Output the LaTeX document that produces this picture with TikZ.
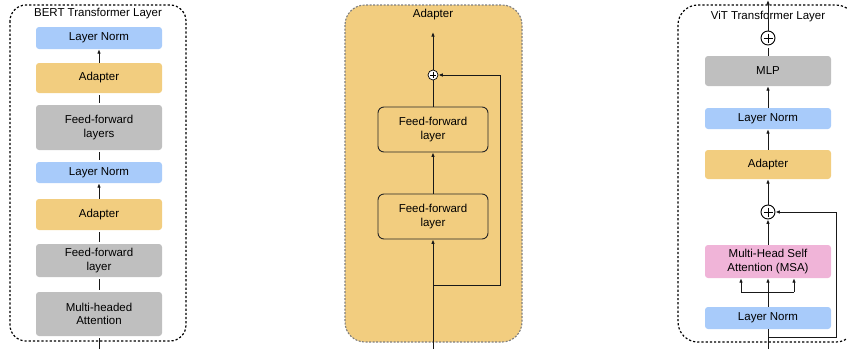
\documentclass[tikz,border=0pt]{standalone}
\usepackage{fontspec}
\setmainfont{Liberation Sans}
\usetikzlibrary{arrows.meta,calc}
\definecolor{lnblue}{HTML}{A8CBFA}
\definecolor{adorange}{HTML}{F2CD7F}
\definecolor{ffgray}{HTML}{BFBFBF}
\definecolor{msapink}{HTML}{F0B4D8}
\definecolor{dashgray}{HTML}{7F7F7F}
\begin{document}
\begin{tikzpicture}[x=1pt,y={(0pt,-1pt)},
  every node/.style={font=\fontsize{11.5}{13.5}\selectfont, align=center, inner sep=0pt},
  blk/.style={rounded corners=3pt, minimum width=126pt},
  lnbox/.style={blk, fill=lnblue},
  adbox/.style={blk, fill=adorange},
  ffbox/.style={blk, fill=ffgray},
  msabox/.style={blk, fill=msapink},
  midbox/.style={rounded corners=6pt, minimum width=110pt, minimum height=45pt, draw=black!85, line width=0.9pt},
  con/.style={line width=0.9pt, draw=black!90},
  arr/.style={con, -{Latex[length=4.5pt,width=3.6pt]}},
  gap/.style={con, shorten >=2pt, shorten <=2pt},
  dotbox/.style={draw=black, line width=1.2pt, dash pattern=on 2.2pt off 2pt, rounded corners=16pt},
  plusnode/.style={circle, draw=black, line width=0.9pt, minimum size=14pt, fill=white}
]
\useasboundingbox (0,0) rectangle (847,349);

% ---------- Left panel ----------
\draw[dotbox] (10,5) rectangle (186,341);
\node (t1) at (98,14) {BERT Transformer Layer};
\node[lnbox, minimum height=22pt] (ln1) at (99,38) {Layer Norm};
\node[adbox, minimum height=30pt] (ad1) at (99,78) {Adapter};
\node[ffbox, minimum height=45pt] (ff1) at (99,127.5) {Feed-forward\\layers};
\node[lnbox, minimum height=21pt] (ln2) at (99,172.5) {Layer Norm};
\node[adbox, minimum height=31pt] (ad2) at (99,214.5) {Adapter};
\node[ffbox, minimum height=33pt] (ffl) at (99,260.5) {Feed-forward\\layer};
\node[ffbox, minimum height=44pt] (mha) at (99,314) {Multi-headed\\Attention};
\coordinate (lin) at (99,349);
\draw[arr] (ad1) -- (ln1);
\draw[gap] (ff1) -- (ad1);
\draw[gap] (ln2) -- (ff1);
\draw[arr] (ad2) -- (ln2);
\draw[gap] (ffl) -- (ad2);
\draw[gap] (mha) -- (ffl);
\draw[con, shorten >=2pt] (lin) -- (mha);

% ---------- Middle panel ----------
\draw[fill=adorange, draw=dashgray, line width=1.1pt, dash pattern=on 2pt off 1.5pt, rounded corners=20pt] (345,5) rectangle (522,342);
\node (t2) at (433,15) {Adapter};
\node[circle, draw=black, line width=0.7pt, fill=white, minimum size=10pt] (pm) at (433,75) {};
\draw[line width=0.7pt] ($(pm)+(-3.2,0)$) -- ($(pm)+(3.2,0)$) ($(pm)+(0,-3.2)$) -- ($(pm)+(0,3.2)$);
\node[midbox] (ffa) at (433,129.5) {Feed-forward\\layer};
\node[midbox] (ffb) at (433,216.5) {Feed-forward\\layer};
\coordinate (min) at (433,349);
\coordinate (mout) at (433,32);
\coordinate (ms) at (433,285);
\coordinate (msr) at (500,285);
\coordinate (msu) at (500,75);
\draw[arr] (min) -- (ffb);
\draw[arr] (ffb) -- (ffa);
\draw[con] (ffa) -- (pm);
\draw[arr] (pm) -- (mout);
\draw[arr] (ms) -- (msr) -- (msu) -- (pm);

% ---------- Right panel ----------
\draw[dotbox, rounded corners=20pt] (678,5) rectangle (856,342);
\node (t3) at (768,17) {ViT Transformer Layer};
\node[plusnode] (p1) at (768,38) {};
\draw[line width=0.9pt] ($(p1)+(-4.5,0)$) -- ($(p1)+(4.5,0)$) ($(p1)+(0,-4.5)$) -- ($(p1)+(0,4.5)$);
\node[ffbox, minimum height=30pt] (mlp) at (768,71) {MLP};
\node[lnbox, minimum height=21pt] (rln1) at (768,118.5) {Layer Norm};
\node[adbox, minimum height=29pt] (rad) at (768,164.5) {Adapter};
\node[plusnode] (p2) at (768,212) {};
\draw[line width=0.9pt] ($(p2)+(-4.5,0)$) -- ($(p2)+(4.5,0)$) ($(p2)+(0,-4.5)$) -- ($(p2)+(0,4.5)$);
\node[msabox, minimum height=33pt] (msa) at (768,261.5) {Multi-Head Self\\Attention (MSA)};
\node[lnbox, minimum height=22pt] (rln2) at (768,318) {Layer Norm};
\coordinate (rin) at (768,349);
\coordinate (rout) at (768,0);
\coordinate (rs) at (768,337);
\coordinate (rsr) at (836,337);
\coordinate (rsu) at (836,212);
\coordinate (sl) at (741,292);
\coordinate (sr) at (794,292);
\draw[arr] (p1) -- (rout);
\draw[con, shorten >=3pt] (mlp) -- (p1);
\draw[arr] (rln1) -- (mlp);
\draw[arr] (rad) -- (rln1);
\draw[arr] (p2) -- (rad);
\draw[arr] (msa) -- (p2);
\draw[arr] (rln2) -- (msa);
\draw[con] (sl) -- (sr);
\draw[arr] (sl) -- (sl |- msa.south);
\draw[arr] (sr) -- (sr |- msa.south);
\draw[con] (rin) -- (rln2);
\draw[arr] (rs) -- (rsr) -- (rsu) -- (p2);
\end{tikzpicture}
\end{document}
